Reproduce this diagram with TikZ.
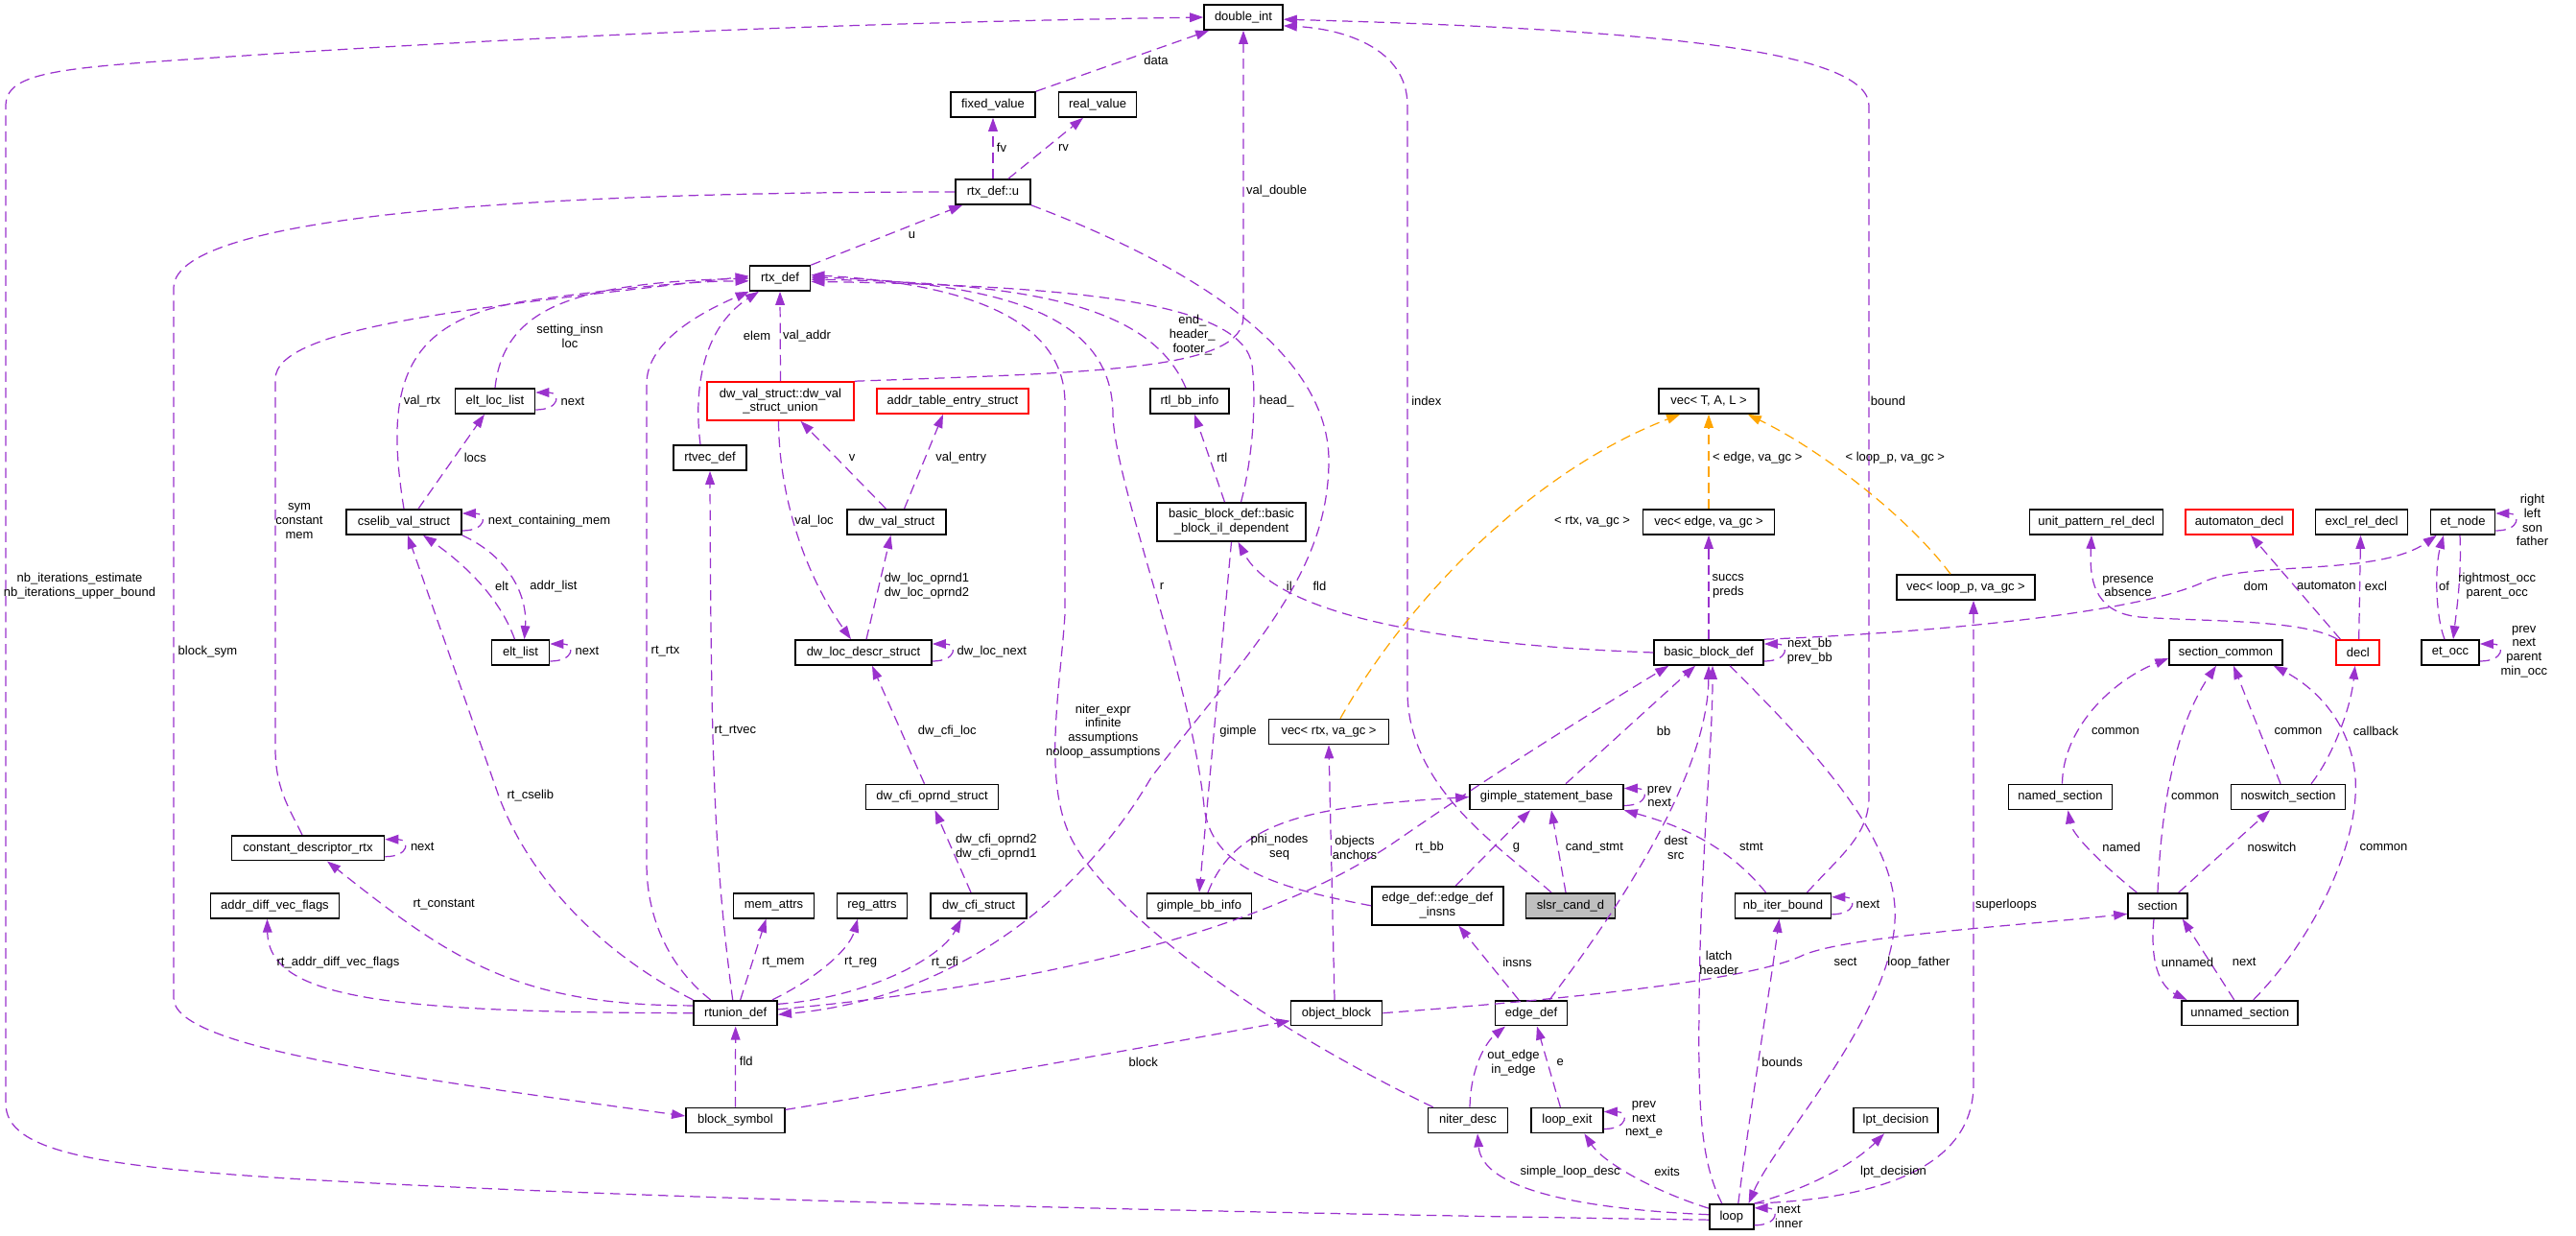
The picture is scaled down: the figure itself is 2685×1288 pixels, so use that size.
\documentclass[tikz,border=0pt]{standalone}
\usepackage{fontspec}
\setmainfont{Liberation Sans}
\usetikzlibrary{arrows.meta,calc}
\definecolor{edgeviolet}{HTML}{9A32CD}
\definecolor{edgeorange}{HTML}{FFA500}
\newcommand{\dgfont}{\fontsize{7.4}{8.4}\selectfont}

\begin{document}
\begin{tikzpicture}[x=0.02cm, y=-0.02cm, font=\dgfont,
  cls/.style={draw=black, line width=0.9pt, fill=white, minimum height=0.52cm, inner xsep=2pt, inner ysep=0pt},
  twoline/.style={cls, minimum height=0.8cm, align=center},
  redcls/.style={cls, draw=red},
  lbl/.style={align=center, inner sep=0pt},
  mem/.style={draw=edgeviolet, line width=0.7pt, dash pattern=on 6pt off 3.5pt, -{Triangle[length=8pt,width=5.5pt]}},
  tmpl/.style={mem, draw=edgeorange}]
  \useasboundingbox (0,0) rectangle (2685,1288);

  % Classes
  \node[cls, minimum width=1.64cm] (doubleint) at (1296,18) {double\_int};
  \node[cls, minimum width=1.76cm] (fixedvalue) at (1035,109) {fixed\_value};
  \node[cls, minimum width=1.62cm] (realvalue) at (1144,109) {real\_value};
  \node[cls, minimum width=1.56cm] (rtxdefu) at (1035,200) {rtx\_def::u};
  \node[cls, minimum width=1.26cm] (rtxdef) at (813,290) {rtx\_def};

  \node[cls, minimum width=1.66cm] (eltloclist) at (516,418) {elt\_loc\_list};
  \node[twoline, draw=red, minimum width=3.06cm] (dwvalunion) at (813.5,418) {dw\_val\_struct::dw\_val\\\_struct\_union};
  \node[redcls, minimum width=3.16cm] (addrtable) at (993,418) {addr\_table\_entry\_struct};
  \node[cls, minimum width=1.64cm] (rtlbbinfo) at (1240,418) {rtl\_bb\_info};
  \node[cls, minimum width=2.08cm] (vectal) at (1781,418) {vec< T, A, L >};
  \node[cls, minimum width=1.52cm] (rtvecdef) at (740,477) {rtvec\_def};

  \node[cls, minimum width=2.40cm] (cselib) at (421,544) {cselib\_val\_struct};
  \node[cls, minimum width=2.06cm] (dwvalstruct) at (934.5,544) {dw\_val\_struct};
  \node[twoline, minimum width=3.10cm] (bbildep) at (1283.5,544) {basic\_block\_def::basic\\\_block\_il\_dependent};
  \node[cls, minimum width=2.74cm] (vecedge) at (1781,544) {vec< edge, va\_gc >};
  \node[cls, minimum width=2.78cm] (unitpattern) at (2185,544) {unit\_pattern\_rel\_decl};
  \node[redcls, minimum width=2.24cm] (automaton) at (2334,544) {automaton\_decl};
  \node[cls, minimum width=1.92cm] (exclrel) at (2461.5,544) {excl\_rel\_decl};
  \node[cls, minimum width=1.34cm] (etnode) at (2567,544) {et\_node};
  \node[cls, minimum width=2.88cm] (vecloop) at (2049,612) {vec< loop\_p, va\_gc >};

  \node[cls, minimum width=1.20cm] (eltlist) at (542.5,680) {elt\_list};
  \node[cls, minimum width=2.84cm] (dwlocdescr) at (900,680) {dw\_loc\_descr\_struct};
  \node[cls, minimum width=2.28cm] (bbdef) at (1781,680) {basic\_block\_def};
  \node[cls, minimum width=2.36cm] (sectioncommon) at (2320,680) {section\_common};
  \node[redcls, minimum width=0.90cm] (decl) at (2457.7,680) {decl};
  \node[cls, minimum width=1.20cm] (etocc) at (2554,680) {et\_occ};
  \node[cls, minimum width=2.50cm] (vecrtx) at (1385,762.5) {vec< rtx, va\_gc >};

  \node[cls, minimum width=2.76cm] (dwcfioprnd) at (971.5,830.5) {dw\_cfi\_oprnd\_struct};
  \node[cls, minimum width=3.20cm] (gimplestmt) at (1612,830.5) {gimple\_statement\_base};
  \node[cls, minimum width=2.16cm] (namedsection) at (2147.5,830.5) {named\_section};
  \node[cls, minimum width=2.38cm] (noswitch) at (2385,830.5) {noswitch\_section};
  \node[cls, minimum width=3.18cm] (constdesc) at (321,883.7) {constant\_descriptor\_rtx};

  \node[cls, minimum width=2.68cm] (addrdiff) at (286.5,943.8) {addr\_diff\_vec\_flags};
  \node[cls, minimum width=1.68cm] (memattrs) at (806.5,943.8) {mem\_attrs};
  \node[cls, minimum width=1.46cm] (regattrs) at (909,943.8) {reg\_attrs};
  \node[cls, minimum width=2.00cm] (dwcfistruct) at (1020,943.8) {dw\_cfi\_struct};
  \node[cls, minimum width=2.18cm] (gimplebbinfo) at (1250,943.8) {gimple\_bb\_info};
  \node[twoline, minimum width=2.74cm] (edgeinsns) at (1498.3,943.8) {edge\_def::edge\_def\\\_insns};
  \node[cls, fill=black!25, minimum width=1.86cm] (slsr) at (1637,943.8) {slsr\_cand\_d};
  \node[cls, minimum width=2.00cm] (nbiterbound) at (1858.5,943.8) {nb\_iter\_bound};
  \node[cls, minimum width=1.24cm] (section) at (2249,943.8) {section};

  \node[cls, minimum width=1.74cm] (rtunion) at (766.7,1055.7) {rtunion\_def};
  \node[cls, minimum width=1.90cm] (objectblock) at (1393,1055.7) {object\_block};
  \node[cls, minimum width=1.50cm] (edgedef) at (1596,1055.7) {edge\_def};
  \node[cls, minimum width=2.42cm] (unnamed) at (2334.7,1055.7) {unnamed\_section};

  \node[cls, minimum width=2.06cm] (blocksymbol) at (766.4,1167.5) {block\_symbol};
  \node[cls, minimum width=1.66cm] (niterdesc) at (1530,1167.5) {niter\_desc};
  \node[cls, minimum width=1.50cm] (loopexit) at (1633.4,1167.5) {loop\_exit};
  \node[cls, minimum width=1.76cm] (lptdecision) at (1976,1167.5) {lpt\_decision};
  \node[cls, minimum width=0.92cm] (loop) at (1804.8,1267.8) {loop};

  % double_int and rtx_def::u
  \draw[mem] (fixedvalue.north east) -- ($(doubleint.south west)+(6,0)$);
  \draw[mem] (rtxdefu.north) -- (fixedvalue.south);
  \draw[mem] ($(rtxdefu.north)+(16,0)$) -- ($(realvalue.south)+(-15,0)$);
  \draw[mem] (rtxdef.north east) -- ($(rtxdefu.south west)+(8,0)$);
  \draw[mem] (dwvalunion.north east) .. controls (1150,388) and (1296,385) .. (1296,330) -- (doubleint.south);
  \draw[mem] ($(slsr.north)+(-20,0)$) .. controls (1560,880) and (1467,820) .. (1467,720) -- (1467,110) .. controls (1467,50) and (1400,30) .. (doubleint.348);
  \draw[mem] ($(nbiterbound.north)+(25,0)$) .. controls (1920,890) and (1948,870) .. (1948,830) -- (1948,110) .. controls (1948,50) and (1700,30) .. (doubleint.357);
  \draw[mem] (loop.188) .. controls (1400,1266) and (700,1252) .. (300,1228) .. controls (100,1215) and (6,1200) .. (6,1150) -- (6,110) .. controls (6,70) and (80,70) .. (300,55) .. controls (700,30) and (1000,22) .. (doubleint.west);
  \draw[mem] (rtxdefu.west) .. controls (600,200) and (181,220) .. (181,300) -- (181,1040) .. controls (181,1090) and (400,1120) .. (blocksymbol.175);

  % into rtx_def
  \draw[mem] (eltloclist.north) .. controls (525,320) and (600,295) .. (rtxdef.west);
  \draw[mem] (cselib.north) .. controls (400,400) and (420,330) .. (560,312) .. controls (650,300) and (720,293) .. (rtxdef.185);
  \draw[mem] ($(constdesc.north)+(-6,0)$) .. controls (300,840) and (287,820) .. (287,780) -- (287,395) .. controls (287,340) and (500,320) .. (rtxdef.176);
  \draw[mem] ($(rtunion.north)+(-26,0)$) .. controls (700,1010) and (674,960) .. (674,900) -- (674,400) .. controls (674,360) and (720,330) .. (rtxdef.south west);
  \draw[mem] ($(rtvecdef.north)+(-10,0)$) .. controls (722,400) and (735,340) .. ($(rtxdef.south)+(-22,0)$);
  \draw[mem] (dwvalunion.north) -- (rtxdef.south);
  \draw[mem] ($(niterdesc.north west)+(6,0)$) .. controls (1300,1060) and (1160,950) .. (1120,880) .. controls (1085,820) and (1105,720) .. (1110,640) -- (1110,420) .. controls (1110,330) and (1000,295) .. (rtxdef.6);
  \draw[mem] (edgeinsns.west) .. controls (1330,925) and (1262,905) .. (1255,840) .. controls (1240,700) and (1160,500) .. (1160,430) .. controls (1158,330) and (1050,295) .. (rtxdef.2);
  \draw[mem] ($(rtlbbinfo.north)+(-4,0)$) .. controls (1200,320) and (1080,295) .. (rtxdef.358);
  \draw[mem] ($(bbildep.north)+(10,0)$) .. controls (1305,480) and (1310,420) .. (1305,380) .. controls (1295,320) and (1150,298) .. (rtxdef.354);

  % rtunion_def
  \draw[mem] (rtxdefu.south east) .. controls (1250,280) and (1385,370) .. (1385,480) .. controls (1385,600) and (1300,680) .. (1200,810) .. controls (1130,930) and (1000,1040) .. (rtunion.358);
  \draw[mem] (blocksymbol.north) -- (rtunion.south);
  \draw[mem] ($(rtunion.north)+(5,0)$) -- ($(memattrs.south)+(-8,0)$);
  \draw[mem] ($(rtunion.north east)+(-6,0)$) .. controls (850,1020) and (885,990) .. ($(regattrs.south)+(-15,0)$);
  \draw[mem] (rtunion.12) .. controls (900,1040) and (980,1000) .. ($(dwcfistruct.south)+(-18,0)$);
  \draw[mem] (rtunion.5) .. controls (1050,1030) and (1300,980) .. (1450,880) .. controls (1580,790) and (1680,730) .. ($(bbdef.south west)+(16,0)$);
  \draw[mem] (rtunion.170) .. controls (540,1048) and (470,1000) .. ($(constdesc.south)+(20,0)$);
  \draw[mem] (rtunion.west) .. controls (400,1055) and (280,1040) .. ($(addrdiff.south)+(-8,0)$);
  \draw[mem] (rtunion.north west) .. controls (620,990) and (550,910) .. (520,830) -- ($(cselib.south)+(4,0)$);
  \draw[mem] ($(rtunion.north)+(-3,0)$) .. controls (745,900) and (741,800) .. (rtvecdef.south);

  % cselib and elt lists
  \draw[mem] ($(eltlist.north)+(-6,0)$) .. controls (520,620) and (480,585) .. ($(cselib.south)+(20,0)$);
  \draw[mem] (cselib.south east) .. controls (530,580) and (550,620) .. ($(eltlist.north)+(4,0)$);
  \draw[mem] ($(cselib.north)+(15,0)$) -- ($(eltloclist.south)+(-11,0)$);

  % dwarf structs
  \draw[mem] ($(dwvalunion.south)+(-2,0)$) .. controls (812,520) and (840,600) .. ($(dwlocdescr.north)+(-13,0)$);
  \draw[mem] ($(dwvalstruct.north)+(-11,0)$) -- ($(dwvalunion.south)+(21,0)$);
  \draw[mem] ($(dwvalstruct.north)+(8,0)$) -- ($(addrtable.south)+(-10,0)$);
  \draw[mem] ($(dwlocdescr.north)+(3,0)$) -- ($(dwvalstruct.south)+(-6,0)$);
  \draw[mem] ($(dwcfioprnd.north)+(-8,0)$) -- ($(dwlocdescr.south)+(9,0)$);
  \draw[mem] ($(dwcfistruct.north)+(-8,0)$) -- ($(dwcfioprnd.south)+(3,0)$);

  % basic blocks and templates
  \draw[mem] ($(bbildep.north)+(-7,0)$) -- ($(rtlbbinfo.south)+(5,0)$);
  \draw[mem] (bbildep.south) -- (gimplebbinfo.north);
  \draw[mem] (bbdef.west) .. controls (1500,672) and (1330,640) .. ($(bbildep.south)+(7,0)$);
  \draw[tmpl] (vecedge.north) -- (vectal.south);
  \draw[tmpl] ($(vecloop.north)+(-16,0)$) .. controls (1990,540) and (1900,470) .. ($(vectal.south east)+(-12,0)$);
  \draw[tmpl] ($(vecrtx.north)+(12,0)$) .. controls (1470,620) and (1600,490) .. ($(vectal.south west)+(23,0)$);
  \draw[mem] (bbdef.north) -- (vecedge.south);
  \draw[mem] (bbdef.north east) .. controls (2000,660) and (2230,640) .. (2300,605) .. controls (2350,585) and (2480,600) .. ($(etnode.south west)+(7,0)$);
  \draw[mem] ($(loop.north)+(-10,0)$) .. controls (1772,1210) and (1770,1150) .. (1771,1050) .. controls (1772,900) and (1785,780) .. ($(bbdef.south)+(4,0)$);
  \draw[mem] ($(gimplestmt.north)+(20,0)$) -- ($(bbdef.south)+(-14,0)$);
  \draw[mem] ($(edgedef.north)+(19,0)$) .. controls (1700,930) and (1780,800) .. (bbdef.south);
  \draw[mem] ($(bbdef.south)+(22,0)$) .. controls (1900,790) and (1980,880) .. (1975,960) .. controls (1970,1060) and (1850,1190) .. ($(loop.north east)+(-6,0)$);

  % loops, edges and statements
  \draw[mem] ($(nbiterbound.north)+(-18,0)$) .. controls (1800,880) and (1750,860) .. (gimplestmt.south east);
  \draw[mem] ($(loop.north)+(7,0)$) .. controls (1825,1150) and (1845,1030) .. ($(nbiterbound.south)+(-4,0)$);
  \draw[mem] (loop.north east) .. controls (1880,1240) and (1930,1215) .. ($(lptdecision.south)+(-12,0)$);
  \draw[mem] (loop.north east) .. controls (1950,1250) and (2057,1220) .. (2057,1130) -- ($(vecloop.south)+(8,0)$);
  \draw[mem] (loop.160) .. controls (1720,1240) and (1670,1210) .. ($(loopexit.south)+(18,0)$);
  \draw[mem] (loop.175) .. controls (1650,1260) and (1545,1240) .. ($(niterdesc.south)+(10,0)$);
  \draw[mem] ($(niterdesc.north)+(2,0)$) .. controls (1533,1110) and (1550,1085) .. ($(edgedef.south)+(-27,0)$);
  \draw[mem] ($(loopexit.north)+(-7,0)$) -- ($(edgedef.south)+(6,0)$);
  \draw[mem] ($(edgedef.north)+(-13,0)$) -- ($(edgeinsns.south)+(22,0)$);
  \draw[mem] ($(edgeinsns.north)+(19,0)$) -- ($(gimplestmt.south)+(-17,0)$);
  \draw[mem] ($(slsr.north)+(-5,0)$) -- ($(gimplestmt.south)+(5,0)$);
  \draw[mem] ($(gimplebbinfo.north)+(9,0)$) .. controls (1290,850) and (1380,840) .. (gimplestmt.west);
  \draw[mem] ($(objectblock.north)+(-2,0)$) -- (vecrtx.south);
  \draw[mem] (objectblock.east) .. controls (1650,1040) and (1830,1020) .. (1880,995) .. controls (1930,975) and (2100,965) .. (section.195);
  \draw[mem] (blocksymbol.12) .. controls (950,1135) and (1200,1090) .. ($(objectblock.west)+(0,8)$);

  % sections
  \draw[mem] ($(section.north west)+(10,0)$) .. controls (2190,900) and (2160,870) .. ($(namedsection.south)+(8,0)$);
  \draw[mem] (section.north) .. controls (2252,850) and (2265,760) .. ($(sectioncommon.south)+(-10,0)$);
  \draw[mem] ($(section.north east)+(-10,0)$) -- ($(noswitch.south)+(-19,0)$);
  \draw[mem] ($(section.south)+(-4,0)$) .. controls (2240,1010) and (2255,1030) .. ($(unnamed.north west)+(6,0)$);
  \draw[mem] ($(unnamed.north)+(-6,0)$) -- ($(section.south east)+(-6,0)$);
  \draw[mem] ($(unnamed.north)+(14,0)$) .. controls (2410,980) and (2460,880) .. (2455,810) .. controls (2450,750) and (2410,715) .. ($(sectioncommon.south east)+(-10,0)$);
  \draw[mem] ($(noswitch.north)+(-8,0)$) -- ($(sectioncommon.south)+(8,0)$);
  \draw[mem] ($(namedsection.north)+(2,0)$) .. controls (2150,760) and (2200,710) .. ($(sectioncommon.west)+(0,6)$);
  \draw[mem] ($(noswitch.north)+(24,0)$) .. controls (2430,790) and (2450,740) .. ($(decl.south)+(-3,0)$);

  % decl and et
  \draw[mem] ($(decl.north west)+(2,0)$) .. controls (2400,645) and (2300,648) .. (2230,643) .. controls (2180,638) and (2178,600) .. ($(unitpattern.south)+(-5,0)$);
  \draw[mem] ($(decl.north west)+(5,0)$) -- ($(automaton.south)+(12,0)$);
  \draw[mem] ($(decl.north)+(1,0)$) -- ($(exclrel.south)+(-1,0)$);
  \draw[mem] ($(etocc.north)+(-6,0)$) .. controls (2538,640) and (2538,590) .. ($(etnode.south)+(-20,0)$);
  \draw[mem] ($(etnode.south)+(-3,0)$) .. controls (2566,600) and (2560,640) .. ($(etocc.north)+(3,0)$);

  % self references
  \draw[mem] ($(eltloclist.east)+(0,9)$) .. controls +(26,0) and +(26,0) .. ($(eltloclist.east)+(0,-9)$);
  \draw[mem] ($(cselib.east)+(0,9)$) .. controls +(26,0) and +(26,0) .. ($(cselib.east)+(0,-9)$);
  \draw[mem] ($(eltlist.east)+(0,9)$) .. controls +(26,0) and +(26,0) .. ($(eltlist.east)+(0,-9)$);
  \draw[mem] ($(dwlocdescr.east)+(0,9)$) .. controls +(26,0) and +(26,0) .. ($(dwlocdescr.east)+(0,-9)$);
  \draw[mem] ($(constdesc.east)+(0,9)$) .. controls +(26,0) and +(26,0) .. ($(constdesc.east)+(0,-9)$);
  \draw[mem] ($(bbdef.east)+(0,9)$) .. controls +(26,0) and +(26,0) .. ($(bbdef.east)+(0,-9)$);
  \draw[mem] ($(gimplestmt.east)+(0,9)$) .. controls +(26,0) and +(26,0) .. ($(gimplestmt.east)+(0,-9)$);
  \draw[mem] ($(nbiterbound.east)+(0,9)$) .. controls +(26,0) and +(26,0) .. ($(nbiterbound.east)+(0,-9)$);
  \draw[mem] ($(loopexit.east)+(0,9)$) .. controls +(26,0) and +(26,0) .. ($(loopexit.east)+(0,-9)$);
  \draw[mem] ($(loop.east)+(0,9)$) .. controls +(26,0) and +(26,0) .. ($(loop.east)+(0,-9)$);
  \draw[mem] ($(etnode.east)+(0,9)$) .. controls +(26,0) and +(26,0) .. ($(etnode.east)+(0,-9)$);
  \draw[mem] ($(etocc.east)+(0,9)$) .. controls +(26,0) and +(26,0) .. ($(etocc.east)+(0,-9)$);

  % labels
  \node[lbl] (tData) at (1205,63) {data};
  \node[lbl] (tFv) at (1044,154) {fv};
  \node[lbl] (tRv) at (1108.5,154) {rv};
  \node[lbl] (tU) at (950.6,245) {u};
  \node[lbl] (tValDouble) at (1330.6,199) {val\_double};
  \node[lbl] (tIndex) at (1486.8,417.7) {index};
  \node[lbl] (tBound) at (1968,418) {bound};
  \node[lbl] (tNbIter) at (83,611) {nb\_iterations\_estimate\\nb\_iterations\_upper\_bound};
  \node[lbl] (tBlockSym) at (216.4,678.7) {block\_sym};
  \node[lbl] (tSetting) at (594,350) {setting\_insn\\loc};
  \node[lbl] (tValRtx) at (440,418) {val\_rtx};
  \node[lbl] (tSym) at (312,543) {sym\\constant\\mem};
  \node[lbl] (tRtRtx) at (693.5,678.7) {rt\_rtx};
  \node[lbl] (tElem) at (789,350) {elem};
  \node[lbl] (tValAddr) at (841,350) {val\_addr};
  \node[lbl] (tNiter) at (1149.8,762) {niter\_expr\\infinite\\assumptions\\noloop\_assumptions};
  \node[lbl] (tR) at (1211,610.7) {r};
  \node[lbl] (tEnd) at (1242.8,349) {end\_\\header\_\\footer\_};
  \node[lbl] (tHead) at (1330.6,417.7) {head\_};
  \node[lbl] (tFldU) at (1375.4,610.7) {fld};
  \node[lbl] (tFldB) at (777.8,1106.3) {fld};
  \node[lbl] (tRtMem) at (816.3,1003) {rt\_mem};
  \node[lbl] (tRtReg) at (897.2,1003) {rt\_reg};
  \node[lbl] (tRtCfi) at (985,1003) {rt\_cfi};
  \node[lbl] (tRtBb) at (1490,882.7) {rt\_bb};
  \node[lbl] (tRtConst) at (462.7,943) {rt\_constant};
  \node[lbl] (tRtAddr) at (352.5,1003) {rt\_addr\_diff\_vec\_flags};
  \node[lbl] (tRtCselib) at (552.8,829.3) {rt\_cselib};
  \node[lbl] (tRtRtvec) at (766.4,761.7) {rt\_rtvec};
  \node[lbl] (tElt) at (523,610.7) {elt};
  \node[lbl] (tAddrList) at (577,610.7) {addr\_list};
  \node[lbl] (tLocs) at (495.4,476.7) {locs};
  \node[lbl] (tNextMem) at (572.5,542.7) {next\_containing\_mem};
  \node[lbl] (tNextElt) at (612,678.7) {next};
  \node[lbl] (tNextEltLoc) at (597,418) {next};
  \node[lbl] (tValLoc) at (848.5,542.7) {val\_loc};
  \node[lbl] (tV) at (888,476.7) {v};
  \node[lbl] (tValEntry) at (1001.7,476.7) {val\_entry};
  \node[lbl] (tOprnd) at (966,611) {dw\_loc\_oprnd1\\dw\_loc\_oprnd2};
  \node[lbl] (tLocNext) at (1033.8,678.7) {dw\_loc\_next};
  \node[lbl] (tCfiLoc) at (987.3,761.7) {dw\_cfi\_loc};
  \node[lbl] (tCfiOprnd) at (1038.4,883) {dw\_cfi\_oprnd2\\dw\_cfi\_oprnd1};
  \node[lbl] (tRtl) at (1273.8,476.7) {rtl};
  \node[lbl] (tGimple) at (1290.5,761.7) {gimple};
  \node[lbl] (tIl) at (1343.8,610.7) {il};
  \node[lbl] (tVecEdge) at (1831.8,477.3) {< edge, va\_gc >};
  \node[lbl] (tVecLoop) at (1975.3,477.3) {< loop\_p, va\_gc >};
  \node[lbl] (tVecRtx) at (1659.6,543.3) {< rtx, va\_gc >};
  \node[lbl] (tSuccs) at (1801.3,611) {succs\\preds};
  \node[lbl] (tNextBb) at (1886.3,679) {next\_bb\\prev\_bb};
  \node[lbl] (tDom) at (2351.3,610.7) {dom};
  \node[lbl] (tLatch) at (1791.6,1003) {latch\\header};
  \node[lbl] (tBb) at (1734,761.7) {bb};
  \node[lbl] (tDest) at (1746.8,883) {dest\\src};
  \node[lbl] (tLoopFather) at (2000,1002.7) {loop\_father};
  \node[lbl] (tStmt) at (1825.4,882.7) {stmt};
  \node[lbl] (tNextNb) at (1947,942.7) {next};
  \node[lbl] (tBounds) at (1857.6,1106.7) {bounds};
  \node[lbl] (tLpt) at (1973.5,1220.7) {lpt\_decision};
  \node[lbl] (tSuper) at (2091,942.7) {superloops};
  \node[lbl] (tNextLoop) at (1864.5,1267.5) {next\\inner};
  \node[lbl] (tExits) at (1737.6,1220.7) {exits};
  \node[lbl] (tSimple) at (1636.6,1220.7) {simple\_loop\_desc};
  \node[lbl] (tOutEdge) at (1577.5,1107.5) {out\_edge\\in\_edge};
  \node[lbl] (tE) at (1626.3,1106.7) {e};
  \node[lbl] (tNextExit) at (1713.5,1167) {prev\\next\\next\_e};
  \node[lbl] (tInsns) at (1581.5,1003) {insns};
  \node[lbl] (tG) at (1580.4,883.3) {g};
  \node[lbl] (tCand) at (1661.9,882.7) {cand\_stmt};
  \node[lbl] (tPrevGimple) at (1729.6,830) {prev\\next};
  \node[lbl] (tPhi) at (1333.5,883) {phi\_nodes\\seq};
  \node[lbl] (tObjects) at (1412,883) {objects\\anchors};
  \node[lbl] (tSect) at (1923.6,1002.7) {sect};
  \node[lbl] (tBlock) at (1191.7,1106.7) {block};
  \node[lbl] (tNamed) at (2211.2,882.7) {named};
  \node[lbl] (tCommonS) at (2288,830) {common};
  \node[lbl] (tNoswitch) at (2368,882.7) {noswitch};
  \node[lbl] (tUnnamed) at (2280,1002.7) {unnamed};
  \node[lbl] (tNextSec) at (2339.2,1002.7) {next};
  \node[lbl] (tCommonU) at (2484.5,882.7) {common};
  \node[lbl] (tCommonNs) at (2395.5,761.7) {common};
  \node[lbl] (tCommonN) at (2205,761.7) {common};
  \node[lbl] (tCallback) at (2476.4,761.7) {callback};
  \node[lbl] (tPresence) at (2218,611) {presence\\absence};
  \node[lbl] (tAutomaton) at (2424.8,610.7) {automaton};
  \node[lbl] (tExcl) at (2476.4,610.7) {excl};
  \node[lbl] (tOf) at (2547.6,610.7) {of};
  \node[lbl] (tRightmost) at (2602.7,611) {rightmost\_occ\\parent\_occ};
  \node[lbl] (tRight) at (2639.5,542) {right\\left\\son\\father};
  \node[lbl] (tPrevOcc) at (2630.8,679) {prev\\next\\parent\\min\_occ};
  \node[lbl] (tNextConst) at (440.3,882.7) {next};
\end{tikzpicture}
\end{document}
